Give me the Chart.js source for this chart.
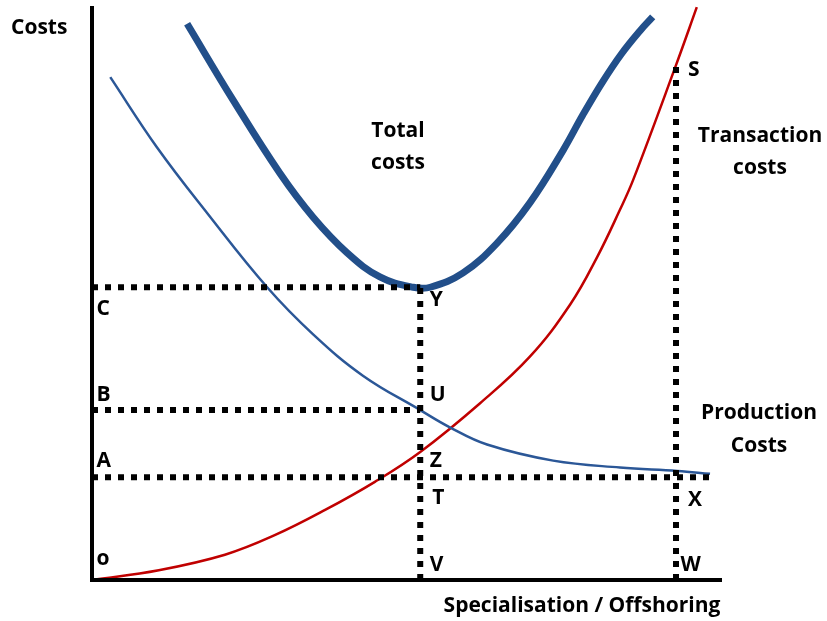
<!DOCTYPE html>
<html>
<head>
<meta charset="utf-8">
<script src="https://cdn.jsdelivr.net/npm/chart.js@4"></script>
<style>
  html, body { margin: 0; padding: 0; background: #fff; }
  #wrap { width: 827px; height: 621px; }
</style>
</head>
<body>
<div id="wrap"><canvas id="costChart"></canvas></div>
<script>
// curve values (x = specialisation, y = costs, both 0..100)
var totalX = [15.1, 22.4, 29.8, 35.1, 40.5, 45.7, 51.0, 53.7, 58.9, 64.3, 69.5, 74.8, 77.9, 81.0, 84.0, 87.0, 89.0];
var totalY = [96.9, 83.6, 70.9, 63.2, 57.0, 52.8, 51.0, 51.0, 53.5, 58.7, 65.7, 74.9, 81.0, 86.7, 91.6, 95.7, 98.1];

var prodX = [2.9, 10.3, 18.3, 27.8, 35.1, 43.0, 52.1, 56.8, 62.7, 73.2, 83.8, 92.9, 98.1];
var prodY = [87.6, 75.4, 63.9, 51.0, 42.8, 35.6, 29.6, 26.6, 23.6, 20.8, 19.6, 19.0, 18.5];

var transX = [0, 10.6, 21.1, 29.0, 37.0, 44.9, 52.1, 61.6, 69.5, 75.9, 80.2, 83.8, 85.9, 92.7, 96.0];
var transY = [0, 1.7, 4.4, 7.8, 12.2, 17.1, 22.3, 30.8, 38.9, 48.0, 56.3, 64.5, 69.7, 89.7, 99.8];

// reference levels
var levelA = 17.9, levelB = 29.6, levelC = 51.0, levelS = 89.7;
var posV = 52.1, posW = 92.7, endA = 98.1;

// letter labels: [text, x, y] in data units
var letters = [
  ['C', 0.7, 47.2], ['B', 0.7, 32.3], ['A', 0.7, 20.8], ['o', 0.7, 3.6],
  ['Y', 53.6, 48.8], ['U', 53.6, 32.3], ['Z', 53.6, 20.8], ['T', 54.0, 14.3], ['V', 53.6, 2.6],
  ['S', 94.6, 88.8], ['X', 94.6, 13.9], ['W', 93.4, 2.6]
];

function pts(xs, ys) {
  return xs.map(function (x, i) { return { x: x, y: ys[i] }; });
}

var dotted = { borderColor: '#000', borderWidth: 6, borderDash: [6, 7], pointRadius: 0, fill: false, tension: 0 };

var labelsPlugin = {
  id: 'labelsPlugin',
  afterDraw: function (chart) {
    var c = chart.ctx, xs = chart.scales.x, ys = chart.scales.y, a = chart.chartArea;
    c.save();
    // axes
    c.strokeStyle = '#000';
    c.lineWidth = 4;
    c.beginPath();
    c.moveTo(a.left, a.top);
    c.lineTo(a.left, a.bottom);
    c.lineTo(a.right, a.bottom);
    c.stroke();

    c.fillStyle = '#000';
    c.font = 'bold 21px "Open Sans"';
    c.textBaseline = 'middle';
    c.textAlign = 'left';
    letters.forEach(function (l) {
      c.fillText(l[0], xs.getPixelForValue(l[1]), ys.getPixelForValue(l[2]));
    });
    c.textAlign = 'center';
    c.fillText('Total', 398, 131);
    c.fillText('costs', 398, 163);
    c.fillText('Transaction', 760, 136);
    c.fillText('costs', 760, 168);
    c.fillText('Production', 759, 413);
    c.fillText('Costs', 759, 446);
    c.fillText('Specialisation / Offshoring', 582, 606);
    c.textAlign = 'left';
    c.fillText('Costs', 11, 28);
    c.restore();
  }
};

var ctx = document.getElementById('costChart').getContext('2d');
var chart = new Chart(ctx, {
  type: 'line',
  data: {
    datasets: [
      Object.assign({ data: [{ x: 0, y: levelC }, { x: posV, y: levelC }] }, dotted),
      Object.assign({ data: [{ x: 0, y: levelB }, { x: posV, y: levelB }] }, dotted),
      Object.assign({ data: [{ x: 0, y: levelA }, { x: endA, y: levelA }] }, dotted),
      Object.assign({ data: [{ x: posV, y: 0 }, { x: posV, y: levelC }] }, dotted),
      Object.assign({ data: [{ x: posW, y: 0 }, { x: posW, y: levelS }] }, dotted),
      {
        label: 'Production costs', data: pts(prodX, prodY),
        borderColor: '#2b5797', borderWidth: 2.5, pointRadius: 0, tension: 0.4
      },
      {
        label: 'Transaction costs', data: pts(transX, transY),
        borderColor: '#c00000', borderWidth: 2.5, pointRadius: 0, tension: 0.4
      },
      {
        label: 'Total costs', data: pts(totalX, totalY),
        borderColor: '#224f8a', borderWidth: 7, pointRadius: 0, tension: 0.4
      }
    ]
  },
  options: {
    responsive: true,
    maintainAspectRatio: false,
    animation: false,
    layout: { padding: { left: 92, top: 6, right: 105, bottom: 41 } },
    scales: {
      x: { type: 'linear', min: 0, max: 100, display: false },
      y: { type: 'linear', min: 0, max: 100, display: false }
    },
    plugins: { legend: { display: false }, tooltip: { enabled: false } },
    elements: { line: { fill: false } },
    datasets: { line: { clip: false } }
  },
  plugins: [labelsPlugin]
});
</script>
</body>
</html>
